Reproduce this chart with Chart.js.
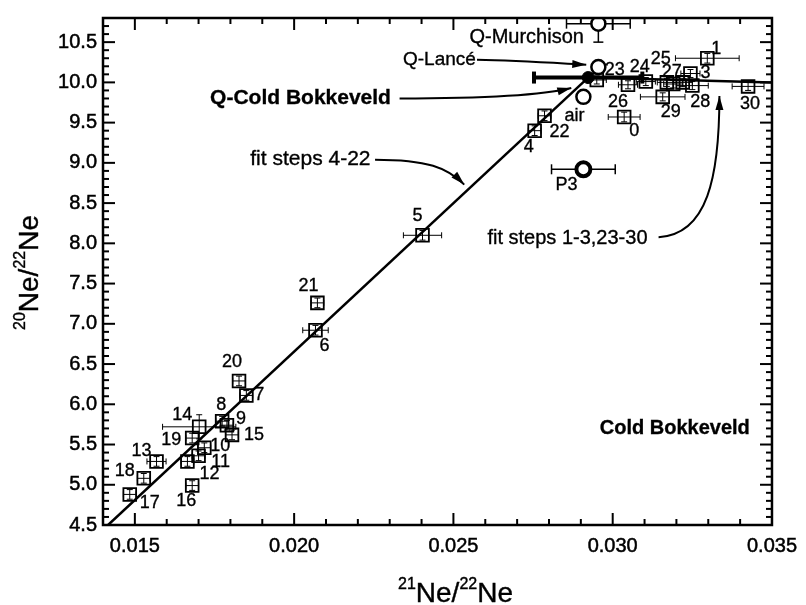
<!DOCTYPE html>
<html>
<head>
<meta charset="utf-8">
<script src="https://cdn.jsdelivr.net/npm/chart.js@4.4.0/dist/chart.umd.min.js"></script>
<style>
html, body { margin: 0; padding: 0; background: #fff; overflow: hidden; }
canvas { display: block; }
</style>
</head>
<body>
<canvas id="neChart" width="806" height="605"></canvas>
<script>
// ---- Axes ----
const X_MIN = 0.014, X_MAX = 0.035;
const Y_MIN = 4.5, Y_MAX = 10.8;
const xTicks = [0.015, 0.020, 0.025, 0.030, 0.035];
const yTicks = [4.5, 5.0, 5.5, 6.0, 6.5, 7.0, 7.5, 8.0, 8.5, 9.0, 9.5, 10.0, 10.5];

// ---- Stepwise release (squares) ----
const stepIds = [0, 1, 2, 3, 4, 5, 6, 7, 8, 9, 10, 11, 12, 13, 14, 15, 16, 17, 18, 19, 20, 21, 22, 23, 24, 25, 26, 27, 28, 29, 30];
const stepX = [0.03036, 0.03297, 0.0319, 0.03244, 0.02755, 0.02403, 0.02067, 0.0185, 0.01774, 0.01789,
	0.01718, 0.0170, 0.01665, 0.01568, 0.01702, 0.01805, 0.0168, 0.01484, 0.01528, 0.0168,
	0.01827, 0.02073, 0.02786, 0.0295, 0.03104, 0.0317, 0.03048, 0.0322, 0.0325, 0.03157, 0.03425];
const stepY = [9.57, 10.30, 9.98, 10.11, 9.40, 8.10, 6.92, 6.11, 5.79, 5.74,
	5.46, 5.36, 5.29, 5.29, 5.72, 5.62, 4.99, 4.88, 5.08, 5.58,
	6.29, 7.26, 9.585, 10.03, 10.01, 10.00, 9.97, 10.00, 9.96, 9.82, 9.95];
const stepXErr = [0.0005, 0.0010, 0.0003, 0.0003, 0.0002, 0.0006, 0.0004, 0.0002, 0.0002, 0.0002,
	0.0002, 0.0002, 0.0002, 0.0003, 0.00115, 0.0002, 0.0002, 0.0002, 0.0002, 0.0002,
	0.0002, 0.0002, 0.0002, 0.0003, 0.0003, 0.0003, 0.0003, 0.0003, 0.0005, 0.0007, 0.0005];
const stepYErr = [0.06, 0.06, 0.05, 0.05, 0.06, 0.06, 0.06, 0.06, 0.06, 0.06,
	0.06, 0.06, 0.06, 0.06, 0.15, 0.06, 0.06, 0.06, 0.06, 0.06,
	0.06, 0.06, 0.06, 0.05, 0.05, 0.05, 0.05, 0.05, 0.05, 0.05, 0.05];
const stepLabels = stepIds.map((n) => (n === 2 ? "" : String(n)));
// label offsets from the marker centre, px
const stepLabelOffsets = [[10, 14], [9, -9], [0, 0], [15, 0], [-6, 16], [-5, -19], [9, 16], [13, 0], [-1, -16], [14, -6],
	[16, -2], [22, 6], [22, 13], [-15, -10], [-17, -12], [22, 0], [-6, 15], [20, 9], [-19, -7], [-21, 2],
	[-7, -19], [-9, -17], [15, 16], [18, -10], [-6, -15], [-6, -23], [-10, 17], [-11, -10], [8, 16], [8, 15], [2, 18]];

// ---- Reference components (open circles) ----
const refNames = ["Q-Murchison", "Q-Lancé", "air", "P3"];
const refX = [0.02955, 0.02955, 0.02908, 0.02908];
const refY = [10.73, 10.19, 9.82, 8.92];
const refXErr = [0.0010, 0, 0, 0.0010];
const refYErr = [0.23, 0, 0, 0];
const refLabels = ["", "", "air", "P3"];
const refLabelOffsets = [[0, 0], [0, 0], [-9, 19], [-17, 16]];

// ---- Q-Cold Bokkeveld (filled) ----
const qcbX = [0.02923];
const qcbY = [10.06];
const qcbXErr = [0.0017];

// ---- Fit lines ----
const fitLowX = [0.01416, 0.02923];
const fitLowY = [4.5, 10.06];
const fitHighX = [0.02923, 0.035];
const fitHighY = [10.06, 10.0];

const FONT = "'Liberation Sans', Arial, Helvetica, sans-serif";

const pts = (xs, ys) => xs.map((x, i) => ({ x, y: ys[i] }));

// ---- Plugins ----
function seg(ctx, x1, y1, x2, y2) {
	ctx.beginPath();
	ctx.moveTo(x1, y1);
	ctx.lineTo(x2, y2);
	ctx.stroke();
}

// text with a hairline outline, a bit heavier than plain fill
function heavyText(ctx, t, x, y, w = 0.45) {
	ctx.lineWidth = w;
	ctx.strokeText(t, x, y);
	ctx.fillText(t, x, y);
}

const errorBars = {
	id: "errorBars",
	beforeDatasetsDraw(chart) {
		const { ctx, chartArea: a, scales: { x, y } } = chart;
		ctx.save();
		ctx.beginPath();
		ctx.rect(a.left, a.top, a.right - a.left, a.bottom - a.top);
		ctx.clip();
		ctx.strokeStyle = "#000";
		chart.data.datasets.forEach((ds) => {
			if (!ds.xErr && !ds.yErr) return;
			ctx.lineWidth = ds.errWidth || 1;
			const cap = ds.errCap || 3;
			ds.data.forEach((p, i) => {
				const px = x.getPixelForValue(p.x);
				const py = y.getPixelForValue(p.y);
				const ex = ds.xErr ? ds.xErr[i] : 0;
				const ey = ds.yErr ? ds.yErr[i] : 0;
				if (ex) {
					const l = x.getPixelForValue(p.x - ex);
					const r = x.getPixelForValue(p.x + ex);
					seg(ctx, l, py, r, py);
					seg(ctx, l, py - cap, l, py + cap);
					seg(ctx, r, py - cap, r, py + cap);
				}
				if (ey) {
					const t = y.getPixelForValue(p.y + ey);
					const b = y.getPixelForValue(p.y - ey);
					seg(ctx, px, t, px, b);
					seg(ctx, px - cap, t, px + cap, t);
					seg(ctx, px - cap, b, px + cap, b);
				}
			});
		});
		ctx.restore();
	},
};

const pointLabels = {
	id: "pointLabels",
	afterDatasetsDraw(chart) {
		const { ctx, scales: { x, y } } = chart;
		ctx.save();
		ctx.fillStyle = "#000";
		ctx.strokeStyle = "#000";
		ctx.font = `18px ${FONT}`;
		ctx.textAlign = "center";
		ctx.textBaseline = "middle";
		chart.data.datasets.forEach((ds) => {
			if (!ds.pointText) return;
			ds.data.forEach((p, i) => {
				const t = ds.pointText[i];
				if (!t) return;
				const [dx, dy] = ds.pointTextOffsets[i];
				heavyText(ctx, t, x.getPixelForValue(p.x) + dx, y.getPixelForValue(p.y) + dy, 0.35);
			});
		});
		ctx.restore();
	},
};

// free text and arrows, anchored in data coordinates
const noteTexts = ["Q-Murchison", "Q-Lancé", "Q-Cold Bokkeveld", "fit steps 4-22", "fit steps 1-3,23-30", "Cold Bokkeveld"];
const noteX = [0.02730, 0.02456, 0.0202, 0.02051, 0.02858, 0.03195];
const noteY = [10.558, 10.28, 9.80, 9.04, 8.06, 5.70];
const noteSize = [20, 19, 21, 21, 20, 20];
const noteBold = [false, false, true, false, false, true];

// arrows: [start, control1, control2, end] in data units
const arrows = [
	[[0.02574, 10.28], [0.0270, 10.27], [0.0282, 10.24], [0.02917, 10.22]],
	[[0.02331, 9.80], [0.0250, 9.80], [0.0275, 9.81], [0.02870, 9.93]],
	[[0.02254, 9.04], [0.02419, 9.04], [0.02481, 8.94], [0.02534, 8.73]],
	[[0.03144, 8.077], [0.03297, 8.11], [0.03335, 8.82], [0.03335, 9.83]],
];

const annotations = {
	id: "annotations",
	afterDatasetsDraw(chart) {
		const { ctx, scales: { x, y } } = chart;
		ctx.save();
		ctx.fillStyle = "#000";
		ctx.strokeStyle = "#000";
		ctx.textAlign = "center";
		ctx.textBaseline = "middle";
		noteTexts.forEach((t, i) => {
			ctx.font = `${noteBold[i] ? "bold " : ""}${noteSize[i]}px ${FONT}`;
			heavyText(ctx, t, x.getPixelForValue(noteX[i]), y.getPixelForValue(noteY[i]), 0.35);
		});
		ctx.lineWidth = 2;
		arrows.forEach((a) => {
			const p = a.map(([vx, vy]) => [x.getPixelForValue(vx), y.getPixelForValue(vy)]);
			ctx.beginPath();
			ctx.moveTo(p[0][0], p[0][1]);
			ctx.bezierCurveTo(p[1][0], p[1][1], p[2][0], p[2][1], p[3][0], p[3][1]);
			ctx.stroke();
			// arrow head along the last tangent
			const ang = Math.atan2(p[3][1] - p[2][1], p[3][0] - p[2][0]);
			const len = 14, half = 4;
			ctx.beginPath();
			ctx.moveTo(p[3][0], p[3][1]);
			ctx.lineTo(p[3][0] - len * Math.cos(ang) + half * Math.sin(ang), p[3][1] - len * Math.sin(ang) - half * Math.cos(ang));
			ctx.lineTo(p[3][0] - len * Math.cos(ang) - half * Math.sin(ang), p[3][1] - len * Math.sin(ang) + half * Math.cos(ang));
			ctx.closePath();
			ctx.fill();
		});
		ctx.restore();
	},
};

const frameTicks = {
	id: "frameTicks",
	afterDraw(chart) {
		const { ctx, chartArea: a, scales: { x, y } } = chart;
		ctx.save();
		ctx.strokeStyle = "#000";
		ctx.lineWidth = 2;
		for (let k = 14; k <= 35; k++) {
			const v = k / 1000;
			const px = x.getPixelForValue(v);
			const L = k % 5 === 0 ? 12 : 6;
			seg(ctx, px, a.bottom, px, a.bottom - L);
			seg(ctx, px, a.top, px, a.top + L);
		}
		for (let k = 45; k <= 108; k++) {
			const v = k / 10;
			const py = y.getPixelForValue(v);
			const L = k % 5 === 0 ? 12 : 6;
			seg(ctx, a.left, py, a.left + L, py);
			seg(ctx, a.right, py, a.right - L, py);
		}
		ctx.lineWidth = 2.5;
		ctx.strokeRect(a.left, a.top, a.right - a.left, a.bottom - a.top);
		ctx.restore();
	},
};

// axis titles with superscript mass numbers
function drawIsoTitle(ctx, parts, cx, base) {
	const big = `28px ${FONT}`, small = `16px ${FONT}`;
	let w = 0;
	parts.forEach((p) => {
		ctx.font = p[1] ? small : big;
		w += ctx.measureText(p[0]).width;
	});
	let cur = cx - w / 2;
	parts.forEach((p) => {
		ctx.font = p[1] ? small : big;
		heavyText(ctx, p[0], cur, p[1] ? base - 13 : base, 0.4);
		cur += ctx.measureText(p[0]).width;
	});
}

const axisTitles = {
	id: "axisTitles",
	afterDraw(chart) {
		const { ctx, chartArea: a } = chart;
		ctx.save();
		ctx.fillStyle = "#000";
		ctx.strokeStyle = "#000";
		ctx.textAlign = "left";
		ctx.textBaseline = "alphabetic";
		drawIsoTitle(ctx, [["21", 1], ["Ne/", 0], ["22", 1], ["Ne", 0]], (a.left + a.right) / 2 + 18, 602);
		ctx.translate(38, (a.top + a.bottom) / 2 + 1);
		ctx.rotate(-Math.PI / 2);
		drawIsoTitle(ctx, [["20", 1], ["Ne/", 0], ["22", 1], ["Ne", 0]], 0, 0);
		ctx.restore();
	},
};

// ---- Chart ----
new Chart(document.getElementById("neChart"), {
	type: "scatter",
	data: {
		datasets: [
			{
				label: "Q-Cold Bokkeveld",
				data: pts(qcbX, qcbY),
				xErr: qcbXErr,
				errWidth: 4,
				errCap: 6,
				pointStyle: "circle",
				pointRadius: 6,
				backgroundColor: "#000",
				borderColor: "#000",
				borderWidth: 1,
				order: 0,
			},
			{
				label: "reference",
				data: pts(refX, refY),
				xErr: refXErr,
				yErr: refYErr,
				errWidth: 1.5,
				errCap: 5,
				pointText: refLabels,
				pointTextOffsets: refLabelOffsets,
				pointStyle: "circle",
				pointRadius: 7,
				backgroundColor: "#fff",
				borderColor: "#000",
				borderWidth: [2.5, 2.5, 2.5, 4],
				order: 1,
			},
			{
				label: "steps",
				data: pts(stepX, stepY),
				xErr: stepXErr,
				yErr: stepYErr,
				errWidth: 1,
				errCap: 3,
				pointText: stepLabels,
				pointTextOffsets: stepLabelOffsets,
				pointStyle: "rect",
				pointRadius: 9,
				backgroundColor: "rgba(255,255,255,0)",
				borderColor: "#000",
				borderWidth: 1.8,
				order: 2,
			},
			{
				label: "fit steps 4-22",
				data: pts(fitLowX, fitLowY),
				showLine: true,
				borderColor: "#000",
				borderWidth: 2.5,
				pointRadius: 0,
				order: 3,
			},
			{
				label: "fit steps 1-3,23-30",
				data: pts(fitHighX, fitHighY),
				showLine: true,
				borderColor: "#000",
				borderWidth: 2.5,
				pointRadius: 0,
				order: 3,
			},
		],
	},
	options: {
		responsive: false,
		animation: false,
		devicePixelRatio: 1,
		layout: { padding: { top: 7, right: 29, left: 0, bottom: 0 } },
		plugins: { legend: { display: false }, tooltip: { enabled: false } },
		scales: {
			x: {
				type: "linear",
				min: X_MIN,
				max: X_MAX,
				grid: { display: false, drawTicks: false },
				border: { display: false },
				afterBuildTicks: (s) => { s.ticks = xTicks.map((v) => ({ value: v })); },
				afterFit: (s) => { s.height = 80; },
				ticks: {
					padding: 9,
					color: "#000",
					autoSkip: false,
					maxRotation: 0,
					textStrokeColor: "#000",
					textStrokeWidth: 0.5,
					font: { family: FONT, size: 20 },
					callback: (v) => Number(v).toFixed(3),
				},
			},
			y: {
				type: "linear",
				min: Y_MIN,
				max: Y_MAX,
				grid: { display: false, drawTicks: false },
				border: { display: false },
				afterBuildTicks: (s) => { s.ticks = yTicks.map((v) => ({ value: v })); },
				afterFit: (s) => { s.width = 103; },
				ticks: {
					padding: 6,
					color: "#000",
					autoSkip: false,
					textStrokeColor: "#000",
					textStrokeWidth: 0.5,
					font: { family: FONT, size: 20 },
					callback: (v) => Number(v).toFixed(1),
				},
			},
		},
	},
	plugins: [errorBars, pointLabels, annotations, frameTicks, axisTitles],
});
</script>
</body>
</html>
